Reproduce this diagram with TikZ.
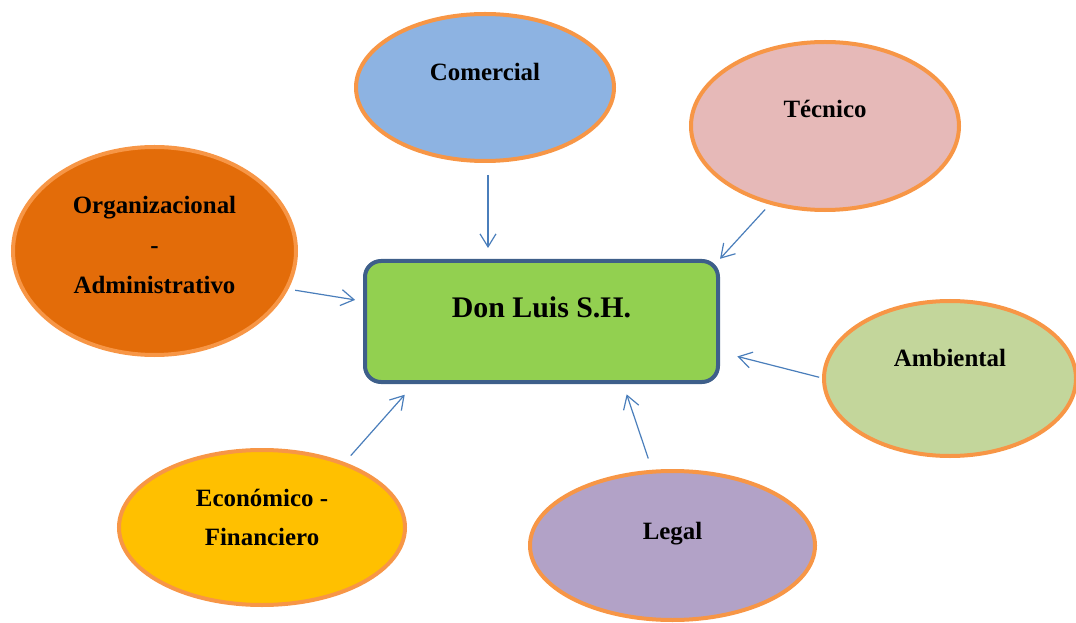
\documentclass[tikz,border=0pt]{standalone}
\usepackage{fontspec}
\setmainfont{Liberation Serif}
\usetikzlibrary{shapes.geometric,arrows.meta}

\definecolor{bordeNaranja}{HTML}{F79646}
\definecolor{bordeAzul}{HTML}{3E5F8A}
\definecolor{azulFlecha}{HTML}{4A7EBB}
\definecolor{verdeCentro}{HTML}{92D050}
\definecolor{azulComercial}{HTML}{8DB3E2}
\definecolor{rosaTecnico}{HTML}{E6B9B8}
\definecolor{naranjaOrg}{HTML}{E36C09}
\definecolor{verdeAmbiental}{HTML}{C3D69B}
\definecolor{amarilloEco}{HTML}{FFC000}
\definecolor{moradoLegal}{HTML}{B2A2C7}

\begin{document}
\begin{tikzpicture}[x=1bp, y=-1bp,
   burbuja/.style = {ellipse, draw=bordeNaranja, line width=4bp, inner sep=0pt, outer sep=0pt},
   etiqueta/.style = {font=\bfseries\fontsize{25}{40}\selectfont, align=center, text=black},
   flecha/.style = {draw=azulFlecha, line width=1.2bp, -{Straight Barb[length=13bp,width=16bp]}}]
   \useasboundingbox (0,0) rectangle (1076,623);

   \node[rectangle, rounded corners=16bp, draw=bordeAzul, line width=4bp, fill=verdeCentro,
      minimum width=353bp, minimum height=121bp, outer sep=0pt,
      label={[etiqueta, font=\bfseries\fontsize{30}{34}\selectfont, yshift=14bp]center:Don Luis S.H.}]
      (luis) at (541.5,321.5) {};

   \node[burbuja, fill=azulComercial, minimum width=258bp, minimum height=147bp,
      label={[etiqueta, yshift=16bp]center:Comercial}] (comercial) at (485,87.5) {};
   \node[burbuja, fill=rosaTecnico, minimum width=268bp, minimum height=168bp,
      label={[etiqueta, yshift=17bp]center:Técnico}] (tecnico) at (825,126) {};
   \node[burbuja, fill=naranjaOrg, minimum width=283bp, minimum height=208bp,
      label={[etiqueta, yshift=6bp]center:Organizacional\\-\\Administrativo}] (organizacional) at (154.5,251) {};
   \node[burbuja, fill=verdeAmbiental, minimum width=252bp, minimum height=155bp,
      label={[etiqueta, yshift=21bp]center:Ambiental}] (ambiental) at (950,378.5) {};
   \node[burbuja, fill=amarilloEco, minimum width=286bp, minimum height=155bp,
      label={[etiqueta, yshift=10bp]center:Económico -\\Financiero}] (economico) at (262,527.5) {};
   \node[burbuja, fill=moradoLegal, minimum width=285bp, minimum height=149bp,
      label={[etiqueta, yshift=12bp]center:Legal}] (legal) at (672.5,545.5) {};

   \draw[flecha, shorten <=14bp, shorten >=13bp] ([xshift=3bp]comercial.south) -- ([xshift=3bp]comercial.south |- luis.north);
   \draw[flecha, shorten <=9bp, shorten >=3bp] (tecnico.235) -- (luis.north east);
   \draw[flecha, shorten <=9bp, shorten >=10bp] (organizacional.-16) -- ([yshift=20bp]luis.west);
   \draw[flecha, shorten <=5bp, shorten >=20bp] (ambiental.west) -- ([yshift=-30bp]luis.east);
   \draw[flecha, shorten <=11bp, shorten >=17bp] (economico.38) -- ([xshift=51bp]luis.south west);
   \draw[flecha, shorten <=14bp, shorten >=13bp] (legal.105) -- ([xshift=81bp]luis.south);
\end{tikzpicture}
\end{document}
